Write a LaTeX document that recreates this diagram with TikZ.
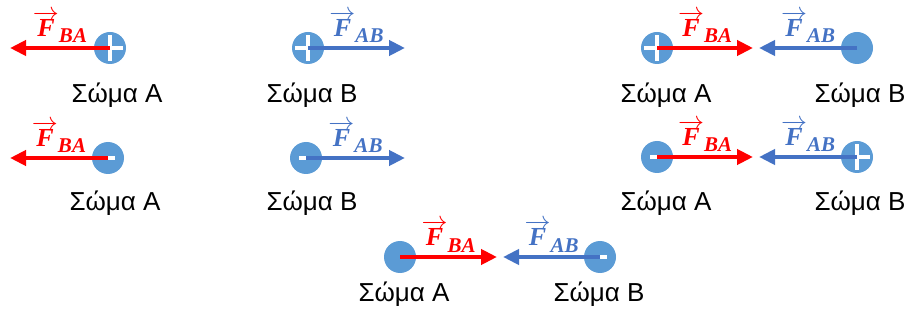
\documentclass[tikz,border=0pt]{standalone}
\usepackage{fix-cm}
\usepackage{fontspec}
\setmainfont{Liberation Sans}
\newfontfamily\forcefont{Liberation Serif}
\usetikzlibrary{arrows.meta}

\definecolor{bodyblue}{HTML}{5B9BD5}
\definecolor{abblue}{HTML}{4472C4}
\definecolor{bared}{HTML}{FF0000}

\newcommand{\forcelabel}[1]{{\forcefont\bfseries\itshape\fontsize{26}{30}\selectfont
  \smash{$\overrightarrow{\mbox{F}}$}\vphantom{F}\raisebox{-6pt}{\fontsize{21}{24}\selectfont #1}}}

\tikzset{
  body/.style={circle, fill=bodyblue, minimum size=32pt, inner sep=0pt},
  plus/.style={path picture={
      \draw[white, line width=4pt]
        ([xshift=-13pt]path picture bounding box.center) -- ([xshift=13pt]path picture bounding box.center)
        ([yshift=-13pt]path picture bounding box.center) -- ([yshift=13pt]path picture bounding box.center);}},
  minus/.style={path picture={
      \fill[white] ([xshift=-7pt,yshift=-2pt]path picture bounding box.center)
        rectangle ([xshift=7pt,yshift=2pt]path picture bounding box.center);}},
  forceBA/.style={color=bared, line width=4pt, -{Triangle[length=16pt,width=15pt]}},
  forceAB/.style={color=abblue, line width=4pt, -{Triangle[length=16pt,width=15pt]}},
  flabel/.style={midway, anchor=base, yshift=11pt, inner sep=0pt},
  bodyname/.style={anchor=base, font=\fontsize{26}{30}\selectfont}
}

\begin{document}
\begin{tikzpicture}[x=1pt, y=-1pt]
    \useasboundingbox (0,0) rectangle (912,320);

    % first row
    \node[body, plus] (A1) at (110,48) {};
    \coordinate (tA1) at (10,48);
    \draw[forceBA] (A1.center) -- (tA1) node[flabel] {\forcelabel{BA}};
    \node[bodyname] (nA1) at (117,103) {Σώμα Α};

    \node[body, plus] (B1) at (308,48) {};
    \coordinate (tB1) at (405,48);
    \draw[forceAB] (B1.center) -- (tB1) node[flabel] {\forcelabel{AB}};
    \node[bodyname] (nB1) at (312,103) {Σώμα Β};

    \node[body, plus] (A3) at (657,48) {};
    \node[body] (B3) at (857,48) {};
    \coordinate (tA3) at (753,48);
    \coordinate (tB3) at (759,48);
    \draw[forceBA] (A3.center) -- (tA3) node[flabel] {\forcelabel{BA}};
    \draw[forceAB] (B3.center) -- (tB3) node[flabel] {\forcelabel{AB}};
    \node[bodyname] (nA3) at (666,103) {Σώμα Α};
    \node[bodyname] (nB3) at (860,103) {Σώμα Β};

    % second row
    \node[body, minus] (A2) at (108,158) {};
    \coordinate (tA2) at (10,158);
    \draw[forceBA] (A2.center) -- (tA2) node[flabel] {\forcelabel{BA}};
    \node[bodyname] (nA2) at (115,211) {Σώμα Α};

    \node[body, minus] (B2) at (306,158) {};
    \coordinate (tB2) at (405,158);
    \draw[forceAB] (B2.center) -- (tB2) node[flabel] {\forcelabel{AB}};
    \node[bodyname] (nB2) at (312,211) {Σώμα Β};

    \node[body, minus] (A4) at (657,157) {};
    \node[body, plus] (B4) at (857,157) {};
    \coordinate (tA4) at (753,157);
    \coordinate (tB4) at (759,157);
    \draw[forceBA] (A4.center) -- (tA4) node[flabel] {\forcelabel{BA}};
    \draw[forceAB] (B4.center) -- (tB4) node[flabel] {\forcelabel{AB}};
    \node[bodyname] (nA4) at (666,211) {Σώμα Α};
    \node[bodyname] (nB4) at (860,211) {Σώμα Β};

    % third row
    \node[body] (A5) at (400,257) {};
    \node[body, minus] (B5) at (600,257) {};
    \coordinate (tA5) at (497,257);
    \coordinate (tB5) at (503,257);
    \draw[forceBA] (A5.center) -- (tA5) node[flabel] {\forcelabel{BA}};
    \draw[forceAB] (B5.center) -- (tB5) node[flabel] {\forcelabel{AB}};
    \node[bodyname] (nA5) at (404,301) {Σώμα Α};
    \node[bodyname] (nB5) at (599,301) {Σώμα Β};
\end{tikzpicture}
\end{document}
